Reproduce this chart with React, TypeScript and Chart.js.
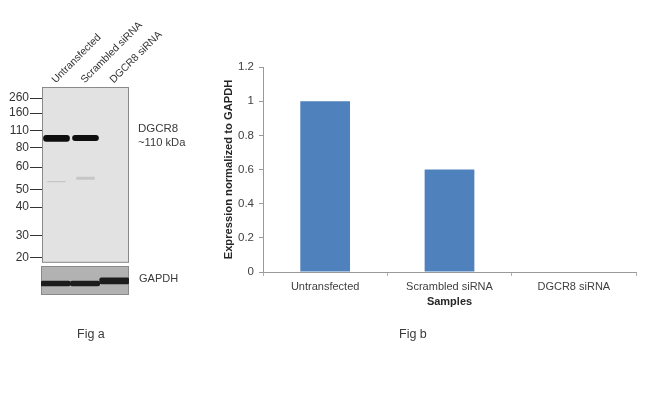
import React, { useEffect, useRef } from "react";
import { Chart, registerables } from "chart.js";

Chart.register(...registerables);

const FONT = "'Liberation Sans', Arial, sans-serif";

// Fig b: densitometry
const samples = ["Untransfected", "Scrambled siRNA", "DGCR8 siRNA"];
const expression = [1, 0.6, 0];

// Fig a: blot, positions are percent of gel migration
const lanes = ["Untransfected", "Scrambled siRNA", "DGCR8 siRNA"];
const markerKda = [260, 160, 110, 80, 60, 50, 40, 30, 20];
const markerMigration = [6.3, 14.8, 24.8, 34.4, 45.6, 58.5, 68.3, 84.6, 97];
const mainBand: [number, number][] = [[27.3, 31.2], [27.3, 30.7], [0, 0]];
const minorBand: [number, number][] = [[53.4, 54.2], [51.1, 52.8], [0, 0]];
const gapdhBand: [number, number][] = [[52, 69], [52, 69], [41, 62]];

const gelBackground = {
  id: "gelBackground",
  beforeDraw(chart: any, _a: any, opts: any) {
    const { ctx, chartArea: a } = chart;
    ctx.save();
    ctx.fillStyle = opts.fill;
    ctx.fillRect(a.left, a.top, a.right - a.left, a.bottom - a.top);
    ctx.strokeStyle = opts.edge;
    ctx.lineWidth = 1;
    ctx.strokeRect(a.left + 0.5, a.top + 0.5, a.right - a.left - 1, a.bottom - a.top - 1);
    ctx.restore();
  },
};

function useChart(make: (c: HTMLCanvasElement) => Chart) {
  const ref = useRef<HTMLCanvasElement>(null);
  useEffect(() => {
    const chart = make(ref.current!);
    return () => chart.destroy();
  }, []);
  return ref;
}

const textStyle: React.CSSProperties = {
  position: "absolute",
  fontFamily: FONT,
  color: "#3a3a3a",
  whiteSpace: "nowrap",
  lineHeight: "14px",
};

export default function App() {
  const barRef = useChart(
    (c) =>
      new Chart(c, {
        type: "bar",
        data: {
          labels: samples,
          datasets: [{ data: expression, backgroundColor: "#4f81bd", categoryPercentage: 0.4, barPercentage: 1 }],
        },
        options: {
          animation: false,
          responsive: false,
          layout: { padding: { left: 222, right: 14, top: 67, bottom: 100 } },
          plugins: { legend: { display: false }, tooltip: { enabled: false } },
          scales: {
            x: {
              border: { color: "#9a9a9a" },
              grid: { drawOnChartArea: false, color: "#b0b0b0", tickLength: 4 },
              ticks: { color: "#404040", font: { family: FONT, size: 11 }, padding: 4, maxRotation: 0 },
              title: { display: true, text: "Samples", color: "#262626", font: { family: FONT, size: 11, weight: "bold" }, padding: { top: 1, bottom: 0 } },
              afterFit: (s: any) => { s.height = 37; },
            },
            y: {
              min: 0,
              max: 1.2,
              border: { color: "#9a9a9a" },
              grid: { drawOnChartArea: false, color: "#9a9a9a", tickLength: 4 },
              ticks: { stepSize: 0.2, color: "#404040", font: { family: FONT, size: 11.5 }, padding: 5, callback: (v: any) => String(Math.round(Number(v) * 10) / 10) },
              title: { display: true, text: "Expression normalized to GAPDH", color: "#262626", font: { family: FONT, size: 11.2, weight: "bold" }, padding: { top: 0, bottom: 0 } },
              afterFit: (s: any) => { s.width = 41; },
            },
          },
        },
      } as any)
  );

  const gelRef = useChart(
    (c) =>
      new Chart(c, {
        type: "bar",
        data: {
          labels: lanes,
          datasets: [
            { data: mainBand, backgroundColor: "#0e0e0e", borderRadius: 3, borderSkipped: false, categoryPercentage: 0.92, barPercentage: 1, grouped: false },
            { data: minorBand, backgroundColor: "#c6c6c6", borderRadius: 1, borderSkipped: false, categoryPercentage: 0.65, barPercentage: 1, grouped: false },
          ],
        },
        options: {
          animation: false,
          responsive: false,
          layout: { padding: { left: 0, right: 81, top: 0, bottom: 2 } },
          plugins: { legend: { display: false }, tooltip: { enabled: false }, gelBackground: { fill: "#e2e2e2", edge: "#8a8a8a" } },
          scales: {
            x: {
              position: "top",
              border: { display: false },
              grid: { display: false },
              ticks: { color: "#333", font: { family: FONT, size: 10.4 }, minRotation: 45, maxRotation: 45, padding: -7, labelOffset: 6 },
              afterFit: (s: any) => { s.height = 87; },
            },
            y: {
              min: 0,
              max: 100,
              reverse: true,
              border: { display: false },
              afterBuildTicks: (s: any) => { s.ticks = markerMigration.map((value) => ({ value })); },
              grid: { drawOnChartArea: false, color: "#333", tickLength: 12, offset: false },
              ticks: {
                color: "#333",
                font: { family: FONT, size: 12 },
                padding: 1,
                autoSkip: false,
                callback: (v: any) => String(markerKda[markerMigration.indexOf(Number(v))] ?? ""),
              },
              afterFit: (s: any) => { s.width = 42; },
            },
          },
        },
        plugins: [gelBackground],
      } as any)
  );

  const gapdhRef = useChart(
    (c) =>
      new Chart(c, {
        type: "bar",
        data: {
          labels: lanes,
          datasets: [{ data: gapdhBand, backgroundColor: "#1c1c1c", borderRadius: 2, borderSkipped: false, categoryPercentage: 1, barPercentage: 1 }],
        },
        options: {
          animation: false,
          responsive: false,
          plugins: { legend: { display: false }, tooltip: { enabled: false }, gelBackground: { fill: "#b2b2b2", edge: "#8a8a8a" } },
          scales: {
            x: { display: false },
            y: { display: false, min: 0, max: 100, reverse: true },
          },
        },
        plugins: [gelBackground],
      } as any)
  );

  const blur = "blur(0.5px)";
  return (
    <div style={{ position: "fixed", left: 0, top: 0, width: 650, height: 409, background: "#fff", overflow: "hidden" }}>
      <canvas ref={barRef} width={650} height={409} style={{ position: "absolute", left: 0, top: 0, filter: "blur(0.3px)" }} />
      <canvas ref={gelRef} width={210} height={271} style={{ position: "absolute", left: 0, top: 0, filter: blur }} />
      <canvas ref={gapdhRef} width={88} height={29} style={{ position: "absolute", left: 41, top: 266, filter: blur }} />
      <div style={{ ...textStyle, left: 138, top: 121, fontSize: 11.5 }}>DGCR8</div>
      <div style={{ ...textStyle, left: 138, top: 135, fontSize: 11.2 }}>~110 kDa</div>
      <div style={{ ...textStyle, left: 139, top: 271, fontSize: 11 }}>GAPDH</div>
      <div style={{ ...textStyle, left: 77, top: 327, fontSize: 12.5 }}>Fig a</div>
      <div style={{ ...textStyle, left: 399, top: 327, fontSize: 12.5 }}>Fig b</div>
    </div>
  );
}
